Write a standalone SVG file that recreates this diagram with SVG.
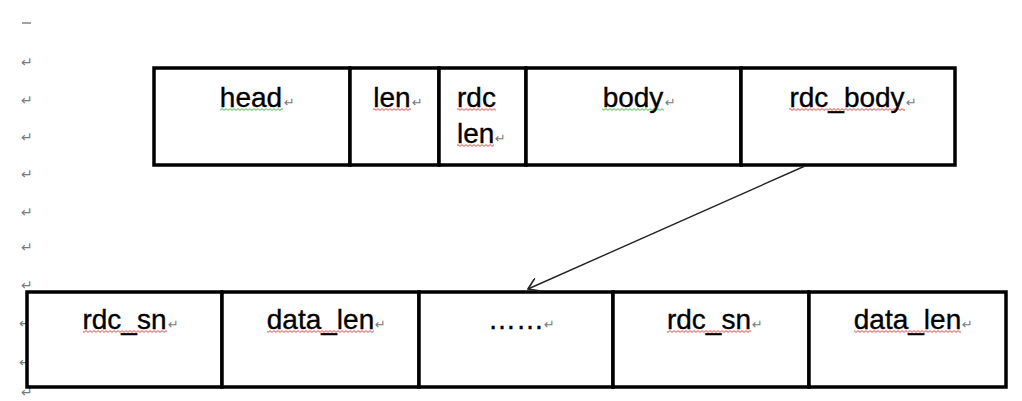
<svg xmlns="http://www.w3.org/2000/svg" width="1022" height="401" viewBox="0 0 1022 401">
  <style>
    .cell { fill: #ffffff; stroke: #000000; stroke-width: 3.5; }
    .lbl { font-family: "Liberation Sans", Arial, sans-serif; font-size: 28px; fill: #000000; stroke: #000000; stroke-width: 0.35; }
    .mid { text-anchor: middle; }
    .pm { font-family: "DejaVu Sans", sans-serif; font-size: 13px; fill: #7a7a7a; }
    .mm { font-family: "DejaVu Sans", sans-serif; font-size: 14px; fill: #7a7a7a; }
    .wr { fill: url(#wavyRed); }
    .wg { fill: url(#wavyGreen); }
    .conn { stroke: #222222; stroke-width: 1.4; fill: none; }
  </style>
  <defs>
    <pattern id="wavyRed" patternUnits="userSpaceOnUse" width="4" height="3">
      <path d="M0,2.4 L2,0.6 L4,2.4" fill="none" stroke="#e03030" stroke-width="0.9"/>
    </pattern>
    <pattern id="wavyGreen" patternUnits="userSpaceOnUse" width="4" height="3">
      <path d="M0,2.4 L2,0.6 L4,2.4" fill="none" stroke="#3aa83a" stroke-width="0.9"/>
    </pattern>
    <marker id="openArrow" markerUnits="userSpaceOnUse" markerWidth="14" markerHeight="14" viewBox="0 0 12 12" refX="11" refY="6" orient="auto">
      <path d="M2,0 L11,6 L2,12" fill="none" stroke="#222222" stroke-width="1.4"/>
    </marker>
  </defs>
  <rect width="1022" height="401" fill="#ffffff"/>

  <g id="margin-marks">
    <line x1="22" y1="23" x2="31" y2="23" stroke="#7a7a7a" stroke-width="1.4"/>
    <text class="mm" x="21" y="67">↵</text>
    <text class="mm" x="21" y="105">↵</text>
    <text class="mm" x="21" y="142">↵</text>
    <text class="mm" x="21" y="179">↵</text>
    <text class="mm" x="21" y="217">↵</text>
    <text class="mm" x="21" y="252">↵</text>
    <text class="mm" x="21" y="290">↵</text>
    <text class="mm" x="19" y="328">↵</text>
    <text class="mm" x="19" y="367">↵</text>
    <text class="mm" x="21" y="397">↵</text>
  </g>

  <!-- top row -->
  <g id="head">
    <rect class="cell" x="154" y="68" width="196" height="97"/>
    <rect class="wg" x="220" y="108" width="63" height="3"/>
    <text class="lbl mid" x="251" y="107">head</text>
    <text class="pm" x="284" y="107">↵</text>
  </g>
  <g id="len">
    <rect class="cell" x="350" y="68" width="89" height="97"/>
    <rect class="wr" x="373" y="108" width="38" height="3"/>
    <text class="lbl mid" x="392" y="107">len</text>
    <text class="pm" x="412" y="107">↵</text>
  </g>
  <g id="rdc-len">
    <rect class="cell" x="439" y="68" width="87" height="97"/>
    <rect class="wr" x="457" y="108" width="39" height="3"/>
    <text class="lbl" x="457" y="107">rdc</text>
    <rect class="wr" x="457" y="144" width="37" height="3"/>
    <text class="lbl" x="457" y="143">len</text>
    <text class="pm" x="495" y="143">↵</text>
  </g>
  <g id="body">
    <rect class="cell" x="526" y="68" width="215" height="97"/>
    <rect class="wg" x="602" y="108" width="62" height="3"/>
    <text class="lbl mid" x="633" y="107">body</text>
    <text class="pm" x="665" y="107">↵</text>
  </g>
  <g id="rdc_body">
    <rect class="cell" x="741" y="68" width="214" height="97"/>
    <rect class="wr" x="789" y="108" width="116" height="3"/>
    <text class="lbl mid" x="847" y="107">rdc_body</text>
    <text class="pm" x="906" y="107">↵</text>
  </g>

  <!-- bottom row -->
  <g id="rdc_sn-1">
    <rect class="cell" x="27" y="292" width="195" height="95"/>
    <rect class="wr" x="83" y="330" width="84" height="3"/>
    <text class="lbl mid" x="124.5" y="329">rdc_sn</text>
    <text class="pm" x="168" y="329">↵</text>
  </g>
  <g id="data_len-1">
    <rect class="cell" x="222" y="292" width="197" height="95"/>
    <rect class="wr" x="267" y="330" width="107" height="3"/>
    <text class="lbl mid" x="320.5" y="329">data_len</text>
    <text class="pm" x="375" y="329">↵</text>
  </g>
  <g id="ellipsis">
    <rect class="cell" x="419" y="292" width="194" height="95"/>
    <text class="lbl mid" x="516" y="329">……</text>
    <text class="pm" x="544" y="329">↵</text>
  </g>
  <g id="rdc_sn-2">
    <rect class="cell" x="613" y="292" width="196" height="95"/>
    <rect class="wr" x="667" y="330" width="84" height="3"/>
    <text class="lbl mid" x="709" y="329">rdc_sn</text>
    <text class="pm" x="752" y="329">↵</text>
  </g>
  <g id="data_len-2">
    <rect class="cell" x="809" y="292" width="197" height="95"/>
    <rect class="wr" x="854" y="330" width="107" height="3"/>
    <text class="lbl mid" x="907.5" y="329">data_len</text>
    <text class="pm" x="962" y="329">↵</text>
  </g>

  <g id="connectors">
    <line class="conn" x1="805" y1="166" x2="528" y2="289" marker-end="url(#openArrow)"/>
  </g>
</svg>
